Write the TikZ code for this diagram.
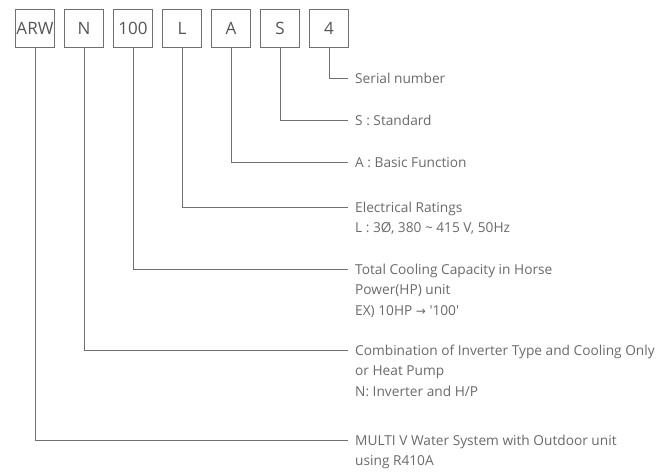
\documentclass[tikz,border=0pt]{standalone}
\usepackage{fontspec}
\setmainfont{Open Sans}
\newfontfamily\symfont{DejaVu Sans}
\definecolor{txtgray}{HTML}{6A6A6A}
\definecolor{boxgray}{HTML}{555555}
\definecolor{linegray}{HTML}{707070}
\tikzset{
  codebox/.style={draw=linegray, line width=0.9pt, minimum width=39pt, minimum height=38pt, inner sep=0pt,
    text=boxgray, font=\fontsize{17}{20}\selectfont},
  leader/.style={draw=linegray, line width=0.9pt},
  desc/.style={anchor=base west, inner sep=0pt, text=txtgray, font=\fontsize{13.7}{20.5}\selectfont}
}
\newcommand{\lines}[1]{\begin{tabular}[t]{@{}l@{}}#1\end{tabular}}
\begin{document}
\begin{tikzpicture}[x=1pt,y=-1pt]
\useasboundingbox (0,0) rectangle (658,475);
% boxes
\node[codebox] (b1) at (35,28) {ARW};
\node[codebox] (b2) at (84,28) {N};
\node[codebox] (b3) at (133,28) {100};
\node[codebox] (b4) at (182,28) {L};
\node[codebox] (b5) at (231,28) {A};
\node[codebox] (b6) at (280,28) {S};
\node[codebox] (b7) at (329,28) {4};
% line ends
\coordinate (c7) at (348,78);
\coordinate (c6) at (348,120);
\coordinate (c5) at (348,162);
\coordinate (c4) at (348,207);
\coordinate (c3) at (348,269);
\coordinate (c2) at (348,350);
\coordinate (c1) at (348,440);
% labels
\node[desc] (l7) at (355,83) {\lines{Serial number}};
\node[desc] (l6) at (355,125) {\lines{S : Standard}};
\node[desc] (l5) at (355,167) {\lines{A : Basic Function}};
\node[desc] (l4) at (355,212) {\lines{Electrical Ratings\\L : 3Ø, 380 \textasciitilde{} 415 V, 50Hz}};
\node[desc] (l3) at (355,274) {\lines{Total Cooling Capacity in Horse\\Power(HP) unit\\EX) 10HP {\symfont\fontsize{12}{20.5}\selectfont →} \textquotesingle 100\textquotesingle}};
\node[desc] (l2) at (355,355) {\lines{Combination of Inverter Type and Cooling Only\\or Heat Pump\\N: Inverter and H/P}};
\node[desc] (l1) at (355,445) {\lines{MULTI V Water System with Outdoor unit\\using R410A}};
% connectors
\draw[leader] (b7.south) |- (c7);
\draw[leader] (b6.south) |- (c6);
\draw[leader] (b5.south) |- (c5);
\draw[leader] (b4.south) |- (c4);
\draw[leader] (b3.south) |- (c3);
\draw[leader] (b2.south) |- (c2);
\draw[leader] (b1.south) |- (c1);
\end{tikzpicture}
\end{document}
